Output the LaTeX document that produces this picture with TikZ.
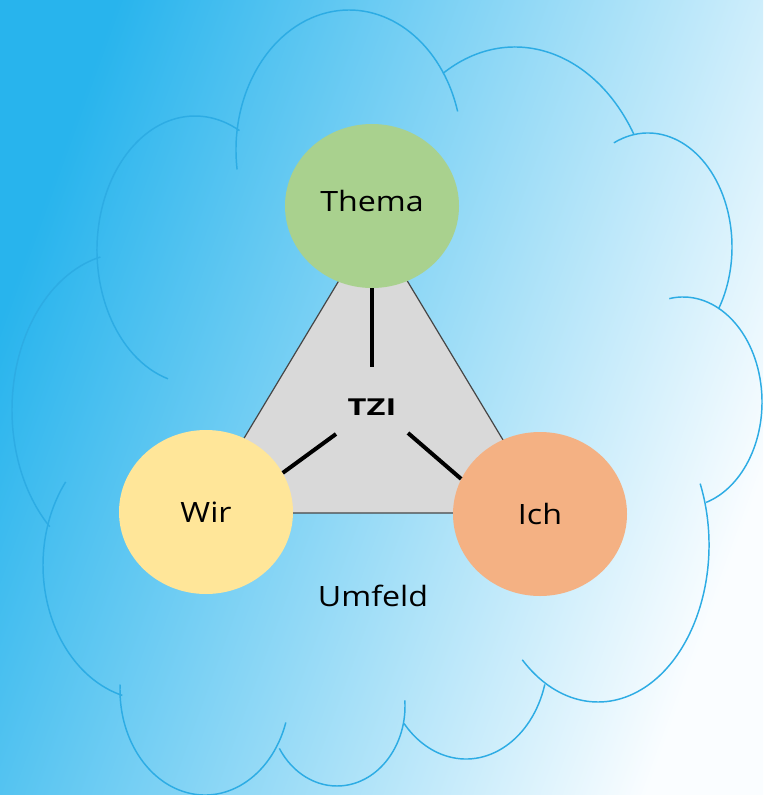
\documentclass[tikz,border=0pt]{standalone}
\usepackage{fontspec}
\setmainfont{Open Sans}[FakeStretch=1.15]
\newfontfamily\tzifont{Open Sans}[FakeStretch=1.4]
\usepackage{tikz}
\usetikzlibrary{shapes.geometric}

\definecolor{skyblue}{RGB}{40,180,237}
\definecolor{skymid}{RGB}{125,210,245}
\definecolor{skywhite}{RGB}{250,253,255}
\definecolor{cloudline}{RGB}{45,172,228}
\definecolor{themagreen}{RGB}{169,209,142}
\definecolor{wiryellow}{RGB}{255,230,153}
\definecolor{ichorange}{RGB}{244,177,131}
\definecolor{tzigray}{RGB}{217,217,217}
\definecolor{tziedge}{RGB}{70,70,70}

\begin{document}
\begin{tikzpicture}[x=0.75pt, y=-0.75pt,
        cloudarc/.style={draw=cloudline, line width=1.1pt},
        topic/.style={ellipse, minimum width=130.5pt, minimum height=123pt, inner sep=0pt, font=\fontsize{21}{25}\selectfont},
        spoke/.style={line width=3pt, black}]
        \useasboundingbox (0,0) rectangle (763,795);
        \shade[left color=skyblue, middle color=skymid, right color=skywhite, shading angle=70] (0,0) rectangle (763,795);

        % Umfeld-Wolke: Mittelpunkt / Radien / Winkel
        \foreach \cx/\cy/\rx/\ry/\ta/\tb in {
                349/150/113/140/172/344,
                515/232/140/185/239/328,
                648/247/84/114/246/393,
                683/402/79/105/260/433,
                598/545/111/157/-23/133,
                466/656/82/103/16/139,
                337/706/68/80/-4/148,
                205/690/85/105/18/183,
                150/565/107/135/105/218,
                126/410/114/157/132/257,
                195/250/98/134/106/297}
            \draw[cloudarc] ({\cx+\rx*cos(\ta)},{\cy+\ry*sin(\ta)}) arc[start angle=\ta, end angle=\tb, x radius=\rx, y radius=\ry];

        % Dreieck
        \coordinate (T1) at (373,224);
        \coordinate (T2) at (199,513);
        \coordinate (T3) at (547,513);
        \filldraw[fill=tzigray, draw=tziedge, line width=0.9pt] (T1) -- (T2) -- (T3) -- cycle;

        \node[topic, fill=themagreen, text depth=7.5pt] (thema) at (372,206) {Thema};
        \node[topic, fill=wiryellow] (wir) at (206,512) {Wir};
        \node[topic, fill=ichorange] (ich) at (540,514) {Ich};
        \node[font=\tzifont\bfseries\fontsize{17.5}{20}\selectfont] (tzi) at (372,407) {TZI};
        \node[font=\fontsize{21}{25}\selectfont] (umfeld) at (373,596) {Umfeld};

        \coordinate (hubT) at (372,367);
        \coordinate (hubL) at (336,434);
        \coordinate (hubR) at (408,433);
        \draw[spoke] (thema.south) -- (hubT);
        \draw[spoke] (hubL) -- (wir.27);
        \draw[spoke] (hubR) -- (ich.156);
\end{tikzpicture}
\end{document}
